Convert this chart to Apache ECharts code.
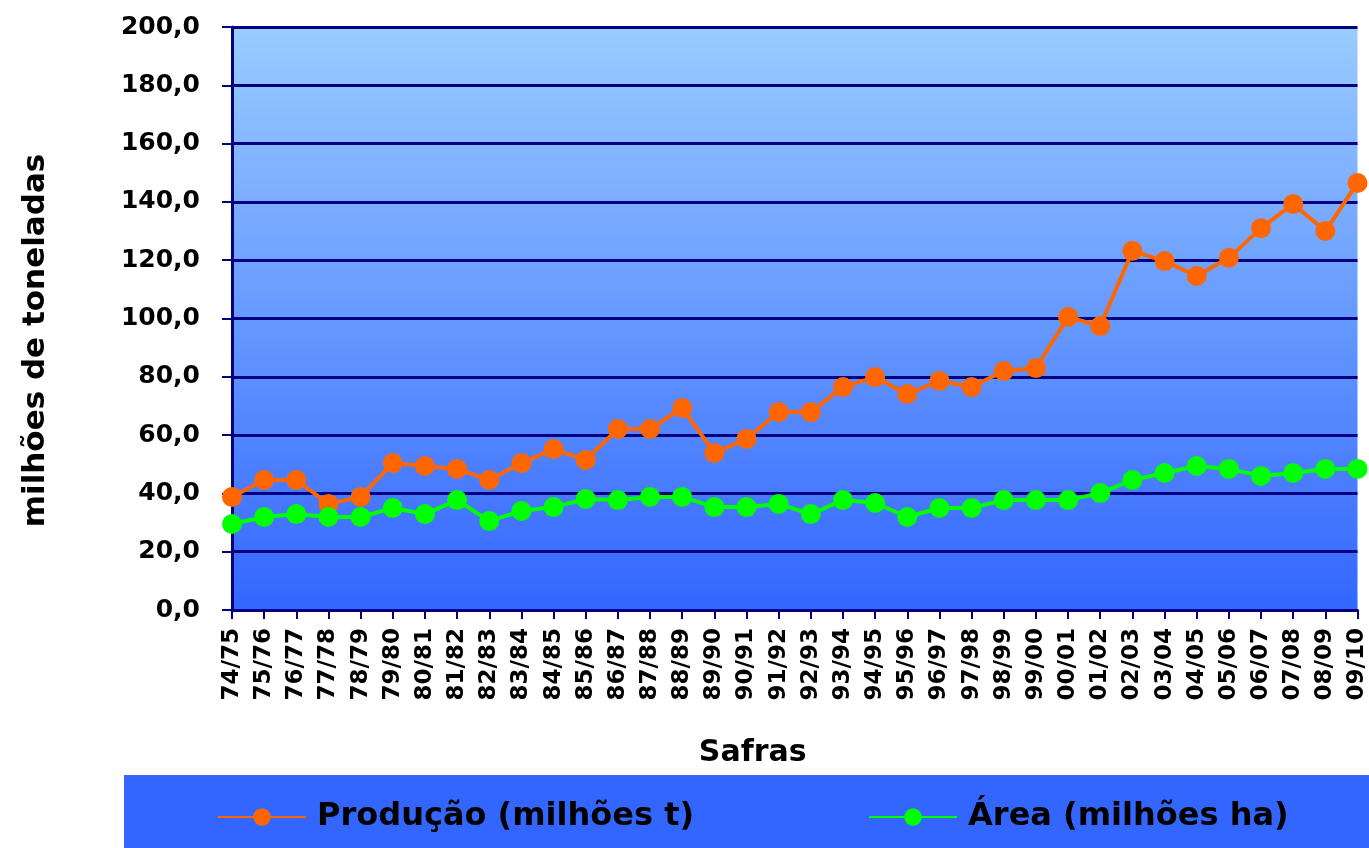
<!DOCTYPE html>
<html>
<head>
<meta charset="utf-8">
<script src="https://cdn.jsdelivr.net/npm/echarts@6/dist/echarts.min.js"></script>
<style>
  html, body { margin: 0; padding: 0; background: #fff; }
  #main { width: 1369px; height: 848px; }
</style>
</head>
<body>
<div id="main"></div>
<script>
// safras
var safras = ['74/75', '75/76', '76/77', '77/78', '78/79', '79/80', '80/81', '81/82', '82/83', '83/84',
    '84/85', '85/86', '86/87', '87/88', '88/89', '89/90', '90/91', '91/92', '92/93', '93/94',
    '94/95', '95/96', '96/97', '97/98', '98/99', '99/00', '00/01', '01/02', '02/03', '03/04',
    '04/05', '05/06', '06/07', '07/08', '08/09', '09/10'];
// Produção (milhões t)
var producao = [38.8, 44.6, 44.6, 36.4, 38.8, 50.4, 49.4, 48.4, 44.6, 50.4,
    55.2, 51.5, 62.1, 62.1, 69.3, 53.9, 58.7, 67.9, 67.9, 76.5,
    79.9, 74.1, 78.6, 76.5, 82.0, 83.0, 100.5, 97.4, 123.2, 119.7,
    114.6, 120.8, 131.0, 139.3, 130.0, 146.5];
// Área (milhões ha)
var area = [29.5, 31.9, 32.9, 31.9, 31.9, 35.0, 32.9, 37.7, 30.5, 34.0,
    35.3, 38.1, 37.7, 38.8, 38.8, 35.3, 35.3, 36.4, 32.9, 37.7,
    36.7, 31.9, 35.0, 35.0, 37.7, 37.7, 37.7, 40.1, 44.6, 47.0,
    49.4, 48.4, 46.0, 47.0, 48.4, 48.4];

var fonte = '"DejaVu Sans", Arial, sans-serif';
var myChart = echarts.init(document.getElementById('main'));

option = {
    animation: false,
    // caixa azul da legenda
    graphic: [{
        type: 'rect',
        left: 124,
        top: 775,
        shape: { width: 1245, height: 73 },
        style: { fill: '#3366FF' },
        z: -1
    }],
    grid: {
        left: 232,
        right: 8,
        top: 27,
        bottom: 238,
        show: true,
        borderWidth: 0,
        backgroundColor: new echarts.graphic.LinearGradient(0, 0, 0, 1, [
            { offset: 0, color: '#99CCFF' },
            { offset: 1, color: '#3366FF' }
        ])
    },
    legend: {
        left: 212,
        top: 796,
        itemWidth: 88,
        itemHeight: 22,
        itemGap: 174,
        textStyle: { fontFamily: fonte, fontWeight: 'bold', fontSize: 32, color: '#000', padding: [0, 0, 0, 6] },
        data: ['Produção (milhões t)', 'Área (milhões ha)']
    },
    xAxis: {
        type: 'category',
        boundaryGap: false,
        data: safras,
        name: 'Safras',
        nameLocation: 'middle',
        nameGap: 128,
        nameTextStyle: { fontFamily: fonte, fontWeight: 'bold', fontSize: 30, color: '#000', padding: [0, 84, 0, 0] },
        axisLine: { lineStyle: { color: '#000080', width: 3 } },
        axisTick: { show: true, alignWithLabel: true, length: 9, lineStyle: { color: '#000080', width: 2 } },
        axisLabel: { rotate: 90, margin: 18, fontFamily: fonte, fontWeight: 'bold', fontSize: 23, color: '#000', interval: 0 },
        splitLine: { show: false }
    },
    yAxis: {
        type: 'value',
        min: 0,
        max: 200,
        interval: 20,
        name: 'milhões de toneladas',
        nameLocation: 'middle',
        nameGap: 181,
        nameTextStyle: { fontFamily: fonte, fontWeight: 'bold', fontSize: 31, color: '#000', padding: [0, 44, 0, 0] },
        axisLine: { show: true, lineStyle: { color: '#000080', width: 3 } },
        axisTick: { show: true, length: 10, lineStyle: { color: '#000080', width: 2 } },
        axisLabel: {
            margin: 32,
            fontFamily: fonte, fontWeight: 'bold', fontSize: 25, color: '#000',
            formatter: function (v) { return v.toFixed(1).replace('.', ','); }
        },
        splitLine: { lineStyle: { color: '#000080', width: 3 } }
    },
    series: [{
        name: 'Produção (milhões t)',
        type: 'line',
        data: producao,
        symbol: 'circle',
        symbolSize: 20,
        itemStyle: { color: '#FF6600' },
        lineStyle: { color: '#FF6600', width: 4 }
    }, {
        name: 'Área (milhões ha)',
        type: 'line',
        data: area,
        symbol: 'circle',
        symbolSize: 20,
        itemStyle: { color: '#00FF00' },
        lineStyle: { color: '#00FF00', width: 4 }
    }]
};
myChart.setOption(option);
</script>
</body>
</html>
